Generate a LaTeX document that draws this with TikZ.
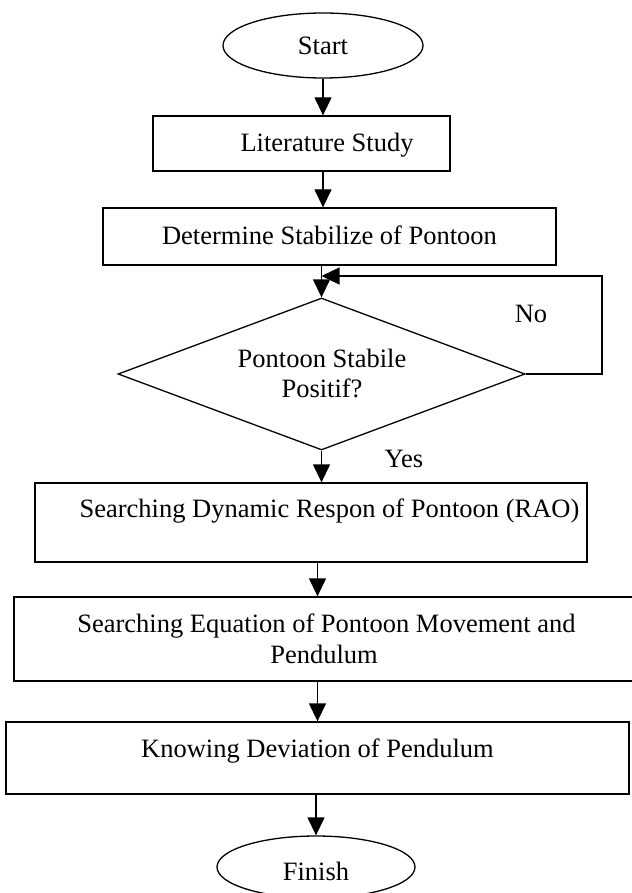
\documentclass[tikz,border=0pt]{standalone}
\usepackage{fontspec}
\setmainfont{Liberation Serif}
\usetikzlibrary{shapes.geometric,arrows.meta}
\begin{document}
\begin{tikzpicture}[x=1pt,y=-1pt,line width=1.3pt,
  box/.style={draw,rectangle,inner sep=0pt},
  term/.style={draw,ellipse,inner sep=0pt},
  dec/.style={draw,diamond,inner sep=0pt},
  txt/.style={inner sep=0pt,anchor=base,font=\fontsize{26.5}{31}\selectfont},
  arr/.style={-{Triangle[width=17pt,length=18pt]}}]
\useasboundingbox (0,0) rectangle (631,893);
% shapes
\node[term,minimum width=200pt,minimum height=65pt] (start) at (323,45.5) {};
\node[box,minimum width=297pt,minimum height=55pt] (lit) at (301.5,143.5) {};
\node[box,minimum width=453pt,minimum height=57pt] (det) at (329.5,236.5) {};
\node[dec,minimum width=407pt,minimum height=152pt] (dec) at (321.5,374) {};
\node[box,minimum width=552pt,minimum height=79pt] (s1) at (311,522.5) {};
\node[box,minimum width=626pt,minimum height=84pt] (s2) at (327,639) {};
\node[box,minimum width=623pt,minimum height=72pt] (s3) at (317.5,758) {};
\node[term,minimum width=198pt,minimum height=62pt] (fin) at (316,867) {};
% texts
\node[txt] (tstart) at (323,55) {Start};
\node[txt] (tlit) at (327,152) {Literature Study};
\node[txt] (tdet) at (329.5,244) {Determine Stabilize of Pontoon};
\node[txt] (tdec1) at (322,367) {Pontoon Stabile};
\node[txt] (tdec2) at (322,397) {Positif?};
\node[txt] (tno) at (531,322) {No};
\node[txt] (tyes) at (404,467) {Yes};
\node[txt] (ts1) at (329.5,517) {Searching Dynamic Respon of Pontoon (RAO)};
\node[txt] (ts2a) at (326.5,632) {Searching Equation of Pontoon Movement and};
\node[txt] (ts2b) at (324,663) {Pendulum};
\node[txt] (ts3) at (317.5,757) {Knowing Deviation of Pendulum};
\node[txt] (tfin) at (316,880) {Finish};
% connectors
\draw[arr] (start.south) -- (start.south |- lit.north);
\draw[arr] (start.south |- lit.south) -- (start.south |- det.north);
\draw[arr] (dec.north |- det.south) -- (dec.north);
\coordinate (lc) at (602,276);
\draw[arr] (dec.east) -| (lc) -- (dec.north |- lc);
\draw[arr] (dec.south) -- (dec.south |- s1.north);
\draw[arr] (s3.north |- s1.south) -- (s3.north |- s2.north);
\draw[arr] (s3.north |- s2.south) -- (s3.north);
\draw[arr] (fin.north |- s3.south) -- (fin.north);
\end{tikzpicture}
\end{document}
